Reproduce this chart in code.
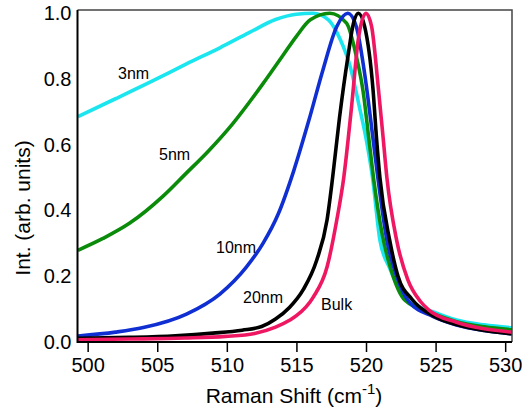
<!DOCTYPE html>
<html>
<head>
<meta charset="utf-8">
<script src="https://cdn.jsdelivr.net/npm/d3@7"></script>
<style>
	body { margin: 0; background: #fff; }
	svg { display: block; font-family: "Liberation Sans", Arial, sans-serif; }
</style>
</head>
<body>
<script>
// данные
const shift3 = [499.3, 502.0, 504.7, 507.1, 509.5, 511.6, 513.5, 515.0, 516.2, 517.3, 518.15, 518.85, 519.5, 520.0, 520.47, 521.0, 521.7, 522.8, 524.8, 526.5, 528.5, 530.5];
const int3 = [0.686, 0.740, 0.795, 0.846, 0.895, 0.941, 0.981, 0.997, 1.0, 0.98, 0.92, 0.84, 0.72, 0.62, 0.50, 0.31, 0.225, 0.132, 0.092, 0.067, 0.052, 0.043];

const shift5 = [499.3, 501.1, 503.0, 505.4, 507.0, 508.7, 510.4, 512.6, 514.0, 515.0, 516.0, 517.4, 518.6, 519.3, 519.8, 520.2, 520.6, 521.2, 521.8, 522.8, 524.8, 526.5, 528.5, 530.5];
const int5 = [0.279, 0.315, 0.361, 0.443, 0.51, 0.582, 0.663, 0.786, 0.87, 0.93, 0.98, 1.0, 0.97, 0.87, 0.76, 0.62, 0.48, 0.32, 0.22, 0.127, 0.087, 0.062, 0.046, 0.037];

const shift10 = [499.3, 502.0, 504.0, 507.1, 509.5, 511.4, 512.6, 513.7, 514.8, 515.9, 516.9, 517.9, 518.7, 519.3, 519.9, 520.5, 520.85, 521.5, 522.2, 523.1, 524.8, 526.5, 528.5, 530.5];
const int10 = [0.018, 0.03, 0.044, 0.085, 0.146, 0.228, 0.30, 0.39, 0.52, 0.675, 0.827, 0.96, 1.0, 0.96, 0.817, 0.62, 0.50, 0.31, 0.20, 0.122, 0.078, 0.052, 0.035, 0.025];

const shift20 = [499.3, 503.0, 506.3, 509.0, 511.1, 512.5, 513.5, 514.5, 515.5, 516.45, 517.2, 517.6, 518.1, 518.7, 519.1, 519.45, 519.9, 520.5, 520.76, 521.0, 521.7, 522.3, 523.3, 524.8, 526.5, 528.5, 530.5];
const int20 = [0.011, 0.014, 0.019, 0.027, 0.036, 0.047, 0.07, 0.105, 0.16, 0.248, 0.371, 0.5, 0.684, 0.868, 0.97, 1.0, 0.96, 0.77, 0.617, 0.5, 0.31, 0.2, 0.13, 0.08, 0.053, 0.035, 0.025];

const shiftBulk = [499.3, 503.0, 507.0, 509.9, 512.0, 513.5, 514.5, 515.0, 516.2, 517.2, 517.9, 518.4, 518.96, 519.44, 520.0, 520.4, 520.9, 521.24, 521.5, 522.2, 523.0, 523.9, 524.5, 526.5, 528.5, 530.5];
const intBulk = [0.007, 0.009, 0.012, 0.017, 0.026, 0.045, 0.066, 0.08, 0.136, 0.228, 0.371, 0.5, 0.715, 0.919, 1.0, 0.96, 0.766, 0.617, 0.5, 0.31, 0.19, 0.124, 0.098, 0.06, 0.04, 0.03];

const seriesNames = ["3nm", "5nm", "10nm", "20nm", "Bulk"];
const seriesColors = ["#1be6ef", "#0a8c0a", "#0f2fd2", "#000000", "#ef1762"];
const xTicks = [500, 505, 510, 515, 520, 525, 530];
const yTicks = [0.0, 0.2, 0.4, 0.6, 0.8, 1.0];

const series = [
	[shift3, int3],
	[shift5, int5],
	[shift10, int10],
	[shift20, int20],
	[shiftBulk, intBulk]
].map(([xs, ys], k) => ({
	name: seriesNames[k],
	color: seriesColors[k],
	points: xs.map((x, i) => [x, ys[i]])
}));

// подписи кривых (положение текста)
const labelPos = [
	{ x: 118, y: 79 },
	{ x: 159, y: 160 },
	{ x: 216, y: 253 },
	{ x: 243, y: 303 },
	{ x: 321, y: 310 }
];

const w = 522,
	h = 415;

const plotLeft = 77.5,
	plotRight = 512,
	plotTop = 10,
	plotBottom = 342;

const xScale = d3
		.scaleLinear()
		.domain([499.27, 530.49])
		.range([plotLeft, plotRight]),

	yScale = d3
		.scaleLinear()
		.domain([0, 1.01])
		.range([plotBottom, plotTop]);

const svg = d3
	.select("body")
	.append("svg")
	.attr("width", w)
	.attr("height", h);

svg
	.append("clipPath")
	.attr("id", "clip")
	.append("rect")
	.attr("x", plotLeft)
	.attr("y", plotTop)
	.attr("width", plotRight - plotLeft)
	.attr("height", plotBottom - plotTop);

// кривые
const line = d3
	.line()
	.x(d => xScale(d[0]))
	.y(d => yScale(d[1]))
	.curve(d3.curveMonotoneX);

svg
	.append("g")
	.attr("clip-path", "url(#clip)")
	.selectAll("path")
	.data(series)
	.enter()
	.append("path")
	.attr("d", d => line(d.points))
	.attr("fill", "none")
	.attr("stroke", d => d.color)
	.attr("stroke-width", 3.6)
	.attr("stroke-linejoin", "round");

// рамка
svg
	.append("path")
	.attr("d", `M${plotLeft},${plotTop}H${plotRight}V${plotBottom}`)
	.attr("fill", "none")
	.attr("stroke", "#444")
	.attr("stroke-width", 1.5);

svg
	.append("path")
	.attr("d", `M${plotLeft},${plotTop}V${plotBottom}H${plotRight}`)
	.attr("fill", "none")
	.attr("stroke", "#000")
	.attr("stroke-width", 2);

// ось x
const xAxis = svg
	.append("g")
	.attr("transform", `translate(0,${plotBottom + 1})`)
	.call(
		d3
			.axisBottom(xScale)
			.tickValues(xTicks)
			.tickSize(9)
			.tickPadding(6)
			.tickFormat(d3.format("d"))
	);

xAxis.select(".domain").remove();
xAxis.selectAll("line").attr("stroke", "#000").attr("stroke-width", 1.5);
xAxis
	.selectAll("text")
	.attr("font-size", "20px")
	.attr("font-family", "Liberation Sans, Arial, sans-serif")
	.attr("fill", "#000");

// ось y
const yAxis = svg
	.append("g")
	.attr("transform", `translate(${plotLeft},0)`)
	.call(
		d3
			.axisLeft(yScale)
			.tickValues(yTicks)
			.tickSize(0)
			.tickPadding(6)
			.tickFormat(d3.format(".1f"))
	);

yAxis.select(".domain").remove();
yAxis
	.selectAll("text")
	.attr("font-size", "20px")
	.attr("font-family", "Liberation Sans, Arial, sans-serif")
	.attr("fill", "#000");

// подписи осей
const xTitle = svg
	.append("text")
	.attr("x", 294)
	.attr("y", 403)
	.attr("text-anchor", "middle")
	.attr("font-size", "21px")
	.attr("fill", "#000");

xTitle.append("tspan").text("Raman Shift (cm");
xTitle
	.append("tspan")
	.attr("dy", -9)
	.attr("font-size", "15px")
	.text("-1");
xTitle
	.append("tspan")
	.attr("dy", 9)
	.text(")");

svg
	.append("text")
	.attr("transform", "translate(30,208) rotate(-90)")
	.attr("text-anchor", "middle")
	.attr("font-size", "21px")
	.attr("fill", "#000")
	.text("Int. (arb. units)");

// подписи серий
svg
	.selectAll(".lbl")
	.data(series)
	.enter()
	.append("text")
	.attr("class", "lbl")
	.attr("x", (d, i) => labelPos[i].x)
	.attr("y", (d, i) => labelPos[i].y)
	.attr("font-size", "16px")
	.attr("fill", "#000")
	.text(d => d.name);
</script>
</body>
</html>
